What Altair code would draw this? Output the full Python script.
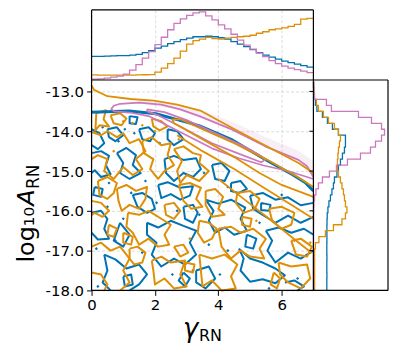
import altair as alt
import numpy as np
import pandas as pd

BLUE, ORANGE, PINK = "#0173b2", "#de8f05", "#cc78bc"

# ---------------- marginal histograms ----------------
gamma_edges = np.round(np.arange(0, 7.01, 0.2), 2)          # 35 bins
top_blue = [23.8, 23.8, 24.0, 24.2, 24.5, 24.5, 25.0, 25.8, 27.5, 29.5, 32.0, 34.0,
            36.5, 38.5, 40.5, 42.0, 43.5, 43.5, 44.0, 43.5, 42.5, 41.0, 38.5, 36.0,
            33.5, 30.5, 27.5, 25.0, 23.0, 21.0, 19.0, 17.5, 16.0, 14.5, 13.0]
top_orange = [5.2, 5.0, 5.0, 5.0, 5.0, 5.0, 5.0, 5.2, 5.3, 5.5, 8.0, 12.0,
              16.5, 22.0, 29.0, 36.0, 39.5, 41.0, 42.8, 41.5, 41.0, 42.0, 42.8, 43.5,
              44.0, 45.0, 47.0, 48.5, 50.5, 51.5, 52.5, 54.0, 56.0, 61.2, 62.0]
top_pink = [0.8, 1.2, 1.8, 2.8, 3.8, 6.0, 10.0, 15.5, 22.0, 28.5, 35.5, 43.0,
            50.5, 57.0, 61.5, 65.0, 67.5, 68.5, 64.5, 60.5, 55.5, 51.5, 46.0, 40.0,
            35.0, 31.0, 27.0, 23.5, 19.5, 16.5, 14.0, 12.0, 10.5, 9.0, 7.5]

logA_edges = np.round(np.arange(-12.75, -18.001, -0.15), 3)   # 35 bins, top to bottom
right_pink = [0.0, 0.3, 1.0, 13.0, 18.0, 45.0, 58.0, 68.0, 71.0, 68.0, 62.0, 57.0,
              47.0, 34.0, 23.0, 16.0, 9.0, 5.0, 2.5, 1.2, 0.6, 0.4, 0.3, 0.3,
              0.2, 0.2, 0.2, 0.1, 0.1, 0.1, 0.1, 0.1, 0.1, 0.1, 0.1]
right_blue = [0.3, 0.5, 1.0, 2.0, 3.5, 9.0, 14.0, 19.0, 25.0, 32.0, 32.0, 31.0,
              29.0, 27.0, 25.0, 23.5, 21.0, 20.0, 18.5, 17.0, 15.5, 14.5, 13.8, 13.6,
              13.5, 13.5, 13.5, 13.4, 13.4, 13.5, 13.4, 13.4, 13.5, 13.4, 13.4]
right_orange = [0.3, 0.5, 1.0, 3.0, 5.0, 10.0, 15.0, 21.0, 25.0, 27.0, 26.0, 25.0,
                24.5, 24.0, 24.0, 25.0, 27.0, 28.5, 30.0, 31.0, 32.0, 33.5, 32.0, 28.5,
                20.0, 12.0, 5.5, 2.0, 1.2, 1.2, 1.2, 1.2, 1.2, 1.2, 1.2]

# ---------------- 2D contour lines (gamma, log10 A) ----------------
pink_haze = {"g": [1.5, 2.5, 3.5, 4.5, 5.5, 6.5, 7.0],
             "lo": [-13.3, -13.42, -13.66, -14.0, -14.4, -14.75, -15.1],
             "hi": [-13.2, -13.28, -13.48, -13.78, -14.15, -14.48, -14.75]}
blue_thick = [(0.0, -13.52), (1.19, -13.49), (2.03, -13.56), (2.76, -13.72), (3.39, -13.86),
              (4.44, -14.22), (5.48, -14.71), (6.32, -15.08), (6.74, -15.29), (7.0, -15.5)]
orange_lines = [
    [(0.0, -12.85), (0.08, -12.96), (0.5, -13.12), (1.23, -13.19), (1.97, -13.23), (2.7, -13.33),
     (3.43, -13.48), (4.44, -13.92), (5.48, -14.36), (6.53, -14.8), (7.0, -15.05)],
    [(7.0, -15.4), (6.5, -15.15), (5.5, -14.7), (4.5, -14.3), (3.5, -13.95), (2.8, -13.7),
     (2.55, -13.7), (2.6, -13.8), (3.5, -14.2), (4.5, -14.65), (5.3, -15.05), (6.0, -15.35), (7.0, -15.65)],
    [(2.7, -14.1), (3.5, -14.5), (4.5, -14.95), (5.5, -15.45), (6.3, -15.85), (7.0, -16.2)],
    [(4.0, -15.2), (4.8, -15.7), (5.6, -16.2), (6.3, -16.65), (6.95, -17.06)],
]
pink_lines = [
    [(7.0, -15.15), (6.8, -14.88), (6.53, -14.72), (5.48, -14.38), (4.44, -13.96), (3.4, -13.62),
     (2.8, -13.45), (2.2, -13.33), (1.5, -13.28), (0.9, -13.31), (0.7, -13.36), (0.62, -13.44),
     (0.72, -13.5), (1.2, -13.53), (1.8, -13.62), (2.7, -13.98), (3.8, -14.43), (4.65, -14.68),
     (5.43, -14.86), (6.2, -15.0), (7.0, -15.2)],
    [(1.75, -13.45), (2.3, -13.52), (3.0, -13.72), (4.0, -14.08), (4.8, -14.38), (5.3, -14.6),
     (5.48, -14.72), (5.35, -14.78), (4.6, -14.55), (3.8, -14.3), (2.8, -13.88), (2.1, -13.6),
     (1.75, -13.5), (1.75, -13.45)],
]
orange_noise = [
    [(0.15, -13.55), (0.45, -13.47), (0.38, -13.7), (0.55, -13.88), (0.25, -13.85), (0.12, -13.98), (0.15, -13.55)],
    [(0.0, -14.02), (0.3, -14.1), (0.5, -14.0), (0.8, -14.15), (1.0, -14.05), (1.2, -14.3), (1.5, -14.2),
     (1.7, -14.5), (1.4, -14.7), (1.6, -14.95), (1.3, -15.1), (1.0, -14.9), (0.7, -15.2), (0.4, -15.0),
     (0.5, -14.7), (0.2, -14.6), (0.0, -14.7)],
    [(1.6, -14.25), (1.9, -14.15), (2.2, -14.35), (2.5, -14.3), (2.4, -14.6), (2.6, -14.85), (2.3, -15.0),
     (2.1, -15.2), (1.85, -14.95), (1.95, -14.7), (1.65, -14.55), (1.6, -14.25)],
    [(2.6, -14.45), (2.9, -14.38), (3.2, -14.55), (3.45, -14.6), (3.4, -14.8), (3.7, -15.0), (3.4, -15.25),
     (3.0, -15.1), (2.8, -15.3), (2.7, -15.0), (2.85, -14.75), (2.6, -14.45)],
    [(0.2, -15.25), (0.5, -15.15), (0.8, -15.3), (0.7, -15.55), (0.5, -15.7), (0.25, -15.6), (0.2, -15.25)],
    [(0.8, -15.45), (1.1, -15.35), (1.4, -15.5), (1.75, -15.4), (1.7, -15.7), (1.5, -15.95), (1.2, -15.85),
     (0.95, -16.0), (0.85, -15.75), (0.8, -15.45)],
    [(1.15, -16.05), (1.5, -16.1), (1.8, -16.0), (2.2, -16.2), (2.5, -16.35), (2.3, -16.6), (2.45, -16.85),
     (2.1, -16.9), (1.8, -16.7), (1.5, -16.85), (1.3, -16.55), (1.1, -16.4), (1.15, -16.05)],
    [(0.0, -16.9), (0.3, -16.8), (0.6, -17.0), (0.9, -16.9), (1.2, -17.2), (1.0, -17.5), (1.2, -17.8), (0.9, -18.0)],
    [(0.0, -17.55), (0.3, -17.6), (0.5, -17.85), (0.4, -18.0)],
    [(1.9, -17.25), (2.2, -17.15), (2.5, -17.3), (2.95, -17.25), (2.8, -17.6), (3.0, -17.9), (2.6, -17.95),
     (2.3, -17.7), (2.0, -17.85), (1.95, -17.5), (1.9, -17.25)],
    [(2.75, -15.35), (3.1, -15.3), (3.45, -15.42), (3.3, -15.7), (3.5, -15.9), (3.15, -15.95), (2.9, -15.75), (2.75, -15.35)],
    [(3.6, -15.5), (3.9, -15.45), (4.15, -15.65), (4.0, -15.95), (4.2, -16.1), (3.8, -16.15), (3.6, -15.85), (3.6, -15.5)],
    [(4.0, -16.45), (4.4, -16.4), (4.7, -16.55), (5.1, -16.45), (5.5, -16.7), (5.3, -16.95), (5.45, -17.2),
     (5.0, -17.15), (4.7, -17.0), (4.4, -17.2), (4.1, -16.9), (4.0, -16.45)],
    [(3.4, -17.1), (3.8, -17.2), (4.2, -17.1), (4.6, -17.35), (4.4, -17.65), (4.55, -17.95), (4.1, -18.0),
     (3.8, -17.75), (3.5, -17.9), (3.45, -17.5), (3.4, -17.1)],
    [(5.9, -17.3), (6.3, -17.4), (6.8, -17.35), (6.9, -17.7), (6.6, -17.95), (6.2, -17.8), (5.95, -17.6), (5.9, -17.3)],
    [(4.6, -15.55), (5.0, -15.5), (5.3, -15.7), (5.15, -15.95), (4.8, -16.05), (4.55, -15.8), (4.6, -15.55)],
    [(5.6, -15.95), (6.0, -15.9), (6.4, -16.05), (6.3, -16.35), (6.0, -16.45), (5.7, -16.25), (5.6, -15.95)],
    [(1.2, -16.95), (1.45, -16.9), (1.7, -17.05), (1.6, -17.3), (1.35, -17.35), (1.2, -17.2), (1.2, -16.95)],
    [(3.4, -16.25), (3.7, -16.3), (3.95, -16.45), (3.8, -16.7), (3.55, -16.8), (3.35, -16.55), (3.4, -16.25)],
    [(6.3, -16.75), (6.6, -16.7), (6.95, -16.9), (6.8, -17.15), (6.45, -17.1), (6.3, -16.75)],
    [(2.3, -15.85), (2.6, -15.8), (2.8, -16.0), (2.6, -16.2), (2.35, -16.1), (2.3, -15.85)],
    [(0.0, -15.75), (0.3, -15.8), (0.55, -16.0), (0.35, -16.15), (0.1, -16.05), (0.0, -16.1)],
    [(1.9, -13.68), (2.2, -13.75), (2.4, -13.88), (2.15, -13.98), (1.95, -13.88), (1.9, -13.68)],
    [(0.55, -16.35), (0.8, -16.45), (0.7, -16.65), (0.5, -16.6), (0.55, -16.35)],
    [(2.6, -16.9), (2.9, -16.85), (3.05, -17.05), (2.8, -17.15), (2.6, -16.9)],
    [(5.75, -17.55), (5.95, -17.7), (5.85, -17.95), (5.65, -17.85), (5.75, -17.55)],
    [(0.6, -13.6), (0.9, -13.55), (1.1, -13.68), (0.95, -13.85), (0.7, -13.8), (0.6, -13.6)],
    [(2.95, -17.3), (3.25, -17.35), (3.2, -17.55), (2.95, -17.5), (2.95, -17.3)],
    [(4.75, -16.15), (5.05, -16.2), (5.0, -16.4), (4.75, -16.35), (4.75, -16.15)],
    [(1.0, -16.55), (1.3, -16.65), (1.25, -16.85), (1.0, -16.8), (1.0, -16.55)],
]
blue_noise = [
    [(0.0, -13.95), (0.25, -14.05), (0.4, -14.3), (0.2, -14.45), (0.0, -14.35)],
    [(0.0, -14.55), (0.3, -14.5), (0.55, -14.62), (0.45, -14.85), (0.6, -15.08), (0.3, -15.15), (0.1, -14.98), (0.0, -15.05)],
    [(0.8, -14.55), (1.1, -14.42), (1.4, -14.6), (1.3, -14.85), (1.55, -15.05), (1.2, -15.2), (0.9, -15.05), (1.0, -14.8), (0.8, -14.55)],
    [(2.3, -14.7), (2.6, -14.62), (2.9, -14.72), (3.3, -14.68), (3.45, -14.95), (3.2, -15.15), (2.9, -15.05),
     (2.6, -15.25), (2.35, -15.05), (2.3, -14.7)],
    [(2.1, -15.35), (2.4, -15.28), (2.8, -15.42), (3.2, -15.38), (3.1, -15.62), (2.8, -15.72), (2.5, -15.58), (2.2, -15.68), (2.1, -15.35)],
    [(0.0, -16.05), (0.3, -16.0), (0.5, -16.2), (0.4, -16.45), (0.55, -16.7), (0.2, -16.72), (0.0, -16.55)],
    [(1.75, -16.3), (2.1, -16.42), (2.5, -16.25), (2.9, -16.38), (3.3, -16.5), (3.1, -16.8), (3.3, -17.1),
     (2.95, -17.35), (2.6, -17.2), (2.2, -17.4), (1.9, -17.1), (2.05, -16.8), (1.75, -16.6), (1.75, -16.3)],
    [(0.4, -17.1), (0.75, -17.22), (1.1, -17.45), (1.5, -17.35), (1.75, -17.6), (1.5, -17.85), (1.2, -18.0)],
    [(0.4, -17.1), (0.5, -17.5), (0.35, -17.8), (0.6, -18.0)],
    [(3.6, -15.72), (4.0, -15.82), (4.4, -15.72), (4.85, -15.92), (4.7, -16.2), (4.9, -16.5), (4.5, -16.6),
     (4.2, -16.42), (3.9, -16.55), (3.7, -16.25), (3.85, -16.0), (3.6, -15.72)],
    [(5.5, -16.5), (5.9, -16.42), (6.3, -16.55), (6.7, -16.45), (7.0, -16.6)],
    [(7.0, -17.0), (6.6, -17.2), (6.2, -17.05), (5.8, -17.3), (5.55, -17.0), (5.7, -16.75), (5.5, -16.5)],
    [(4.65, -16.95), (5.0, -17.2), (5.4, -17.3), (5.8, -17.45), (6.1, -17.62), (5.8, -17.82), (5.4, -17.72),
     (5.0, -17.78), (4.7, -17.5), (4.8, -17.2), (4.65, -16.95)],
    [(5.0, -15.62), (5.4, -15.55), (5.8, -15.72), (6.2, -15.66), (6.6, -15.86), (7.0, -15.8)],
    [(7.0, -16.15), (6.6, -16.3), (6.2, -16.12), (5.8, -16.3), (5.4, -16.1), (5.1, -15.95), (5.0, -15.62)],
    [(1.5, -13.95), (1.8, -13.9), (2.0, -14.05), (1.85, -14.25), (1.6, -14.2), (1.5, -13.95)],
    [(3.8, -14.85), (4.1, -14.8), (4.35, -15.0), (4.2, -15.25), (3.9, -15.2), (3.8, -14.85)],
    [(0.9, -16.3), (1.2, -16.6), (1.0, -16.9), (0.7, -16.75), (0.9, -16.3)],
    [(3.3, -17.5), (3.7, -17.4), (3.9, -17.7), (3.6, -17.95), (3.3, -17.8), (3.3, -17.5)],
    [(1.3, -15.6), (1.6, -15.55), (1.9, -15.7), (2.0, -15.95), (1.75, -16.05), (1.45, -15.9), (1.3, -15.6)],
    [(2.9, -15.9), (3.2, -15.85), (3.35, -16.05), (3.2, -16.3), (2.95, -16.2), (2.9, -15.9)],
    [(4.9, -16.6), (5.2, -16.7), (5.1, -16.95), (4.85, -16.9), (4.9, -16.6)],
    [(6.1, -17.8), (6.4, -17.75), (6.7, -17.9), (6.5, -18.0)],
    [(4.4, -15.3), (4.7, -15.25), (4.9, -15.45), (4.65, -15.55), (4.4, -15.5), (4.4, -15.3)],
    [(0.5, -13.95), (0.8, -13.9), (1.0, -14.1), (0.75, -14.25), (0.55, -14.15), (0.5, -13.95)],
    [(2.4, -13.95), (2.7, -14.0), (2.9, -14.2), (2.6, -14.35), (2.4, -14.2), (2.4, -13.95)],
    [(0.1, -15.4), (0.35, -15.45), (0.3, -15.65), (0.05, -15.6), (0.1, -15.4)],
    [(1.0, -17.65), (1.25, -17.6), (1.3, -17.85), (1.05, -17.9), (1.0, -17.65)],
    [(5.35, -15.8), (5.65, -15.85), (5.6, -16.0), (5.35, -15.98), (5.35, -15.8)],
    [(1.2, -13.62), (1.45, -13.65), (1.4, -13.82), (1.2, -13.8), (1.2, -13.62)],
    [(2.9, -17.55), (3.1, -17.7), (2.95, -17.9), (2.75, -17.75), (2.9, -17.55)],
]
blue_dots = [(0.35, -13.9), (1.05, -13.95), (0.85, -14.25), (1.35, -14.05), (2.15, -14.3), (0.55, -15.3),
             (1.7, -15.25), (2.05, -15.8), (0.5, -15.9), (1.0, -16.2), (0.15, -16.95), (0.75, -16.75),
             (1.6, -17.05), (2.7, -16.0), (3.4, -16.1), (2.55, -17.6), (3.2, -17.5), (3.7, -16.85),
             (4.3, -17.0), (5.3, -16.3), (6.0, -15.6), (4.3, -15.4), (3.55, -15.05), (6.5, -17.7),
             (5.6, -17.95), (0.2, -17.9), (4.05, -17.6), (1.25, -15.55), (2.5, -14.3)]
orange_dots = [(1.0, -13.75), (1.3, -13.8), (1.6, -13.85), (2.0, -14.0), (0.7, -14.5), (5.2, -16.25),
               (6.9, -16.8), (6.4, -16.75), (3.1, -16.7), (2.75, -14.2)]


def loops_df(loops):
    rows = []
    for k, lp in enumerate(loops):
        for i, (g, a) in enumerate(lp):
            rows.append({"loop": k, "i": i, "g": g, "a": a})
    return pd.DataFrame(rows)


def steps_df(edges, series):
    rows = []
    for name, vals in series.items():
        n = 0
        for j, v in enumerate(vals):
            for e in (edges[j], edges[j + 1]):
                rows.append({"s": name, "i": n, "e": float(e), "v": v})
                n += 1
    return pd.DataFrame(rows)


# ---------------- scales (pixel ranges place the three panels) ----------------
W_MAIN, W_ALL, H_TOP, H_ALL = 223, 298, 70.5, 282
SX = alt.Scale(domain=[0, 7], range=[0, W_MAIN], nice=False, zero=False)
SY = alt.Scale(domain=[-18, -12.7125], range=[H_ALL, H_TOP], nice=False, zero=False)
STY = alt.Scale(domain=[0, 70.5], range=[H_TOP, 0], nice=False, zero=False)
SRX = alt.Scale(domain=[0, 74.5], range=[W_MAIN, W_ALL], nice=False, zero=False)
CS = alt.Scale(domain=["blue", "orange", "pink"], range=[BLUE, ORANGE, PINK])

FONT = "DejaVu Sans"
x_axis = alt.Axis(values=[0, 2, 4, 6], grid=True, gridColor="#d3d3d3", gridDash=[3, 2], gridWidth=0.8,
                  domain=False, tickColor="black", tickSize=5, tickWidth=1, labelFont=FONT,
                  labelFontSize=15, labelColor="black", labelPadding=2, labelFlush=False,
                  title=None, orient="bottom")
y_axis = alt.Axis(values=[-18, -17, -16, -15, -14, -13], grid=True, gridColor="#d3d3d3", gridDash=[3, 2],
                  gridWidth=0.8, domain=False, tickColor="black", tickSize=5, tickWidth=1, labelFont=FONT,
                  labelFontSize=15, labelColor="black", labelPadding=3, labelFlush=False,
                  title=None, orient="left",
                  labelExpr="(datum.value < 0 ? '-' : '') + format(abs(datum.value), '.1f')")


def main_line(loops, color, width, axes=False):
    return alt.Chart(loops_df(loops)).mark_line(color=color, strokeWidth=width, strokeJoin="round").encode(
        x=alt.X("g:Q", scale=SX, axis=x_axis if axes else None),
        y=alt.Y("a:Q", scale=SY, axis=y_axis if axes else None),
        detail="loop:N", order="i:Q")


def dots(pts, color):
    df = pd.DataFrame(pts, columns=["g", "a"])
    return alt.Chart(df).mark_point(shape="diamond", color=color, size=10, filled=True, opacity=1).encode(
        x=alt.X("g:Q", scale=SX, axis=None), y=alt.Y("a:Q", scale=SY, axis=None))


haze = alt.Chart(pd.DataFrame(pink_haze)).mark_area(color=PINK, opacity=0.13).encode(
    x=alt.X("g:Q", scale=SX, axis=None), y=alt.Y("lo:Q", scale=SY, axis=None), y2="hi:Q")

layers = [
    main_line(blue_noise, BLUE, 2.0, axes=True),
    dots(blue_dots, BLUE),
    main_line(orange_noise, ORANGE, 2.0),
    dots(orange_dots, ORANGE),
    haze,
    main_line([blue_thick], BLUE, 3.0),
    main_line(pink_lines, PINK, 1.7),
    main_line(orange_lines, ORANGE, 1.8),
]

top_df = steps_df(gamma_edges, {"blue": top_blue, "orange": top_orange, "pink": top_pink})
layers.append(alt.Chart(top_df).mark_line(strokeWidth=1.3).encode(
    x=alt.X("e:Q", scale=SX, axis=None), y=alt.Y("v:Q", scale=STY, axis=None),
    color=alt.Color("s:N", scale=CS, legend=None), order="i:Q"))

right_df = steps_df(logA_edges, {"blue": right_blue, "orange": right_orange, "pink": right_pink})
layers.append(alt.Chart(right_df).mark_line(strokeWidth=1.3).encode(
    x=alt.X("v:Q", scale=SRX, axis=None), y=alt.Y("e:Q", scale=SY, axis=None),
    color=alt.Color("s:N", scale=CS, legend=None), order="i:Q"))

# ticks on the right panel's left spine
tick_df = pd.DataFrame({"a": [-17, -16, -15, -14, -13]})
layers.append(alt.Chart(tick_df).mark_rule(color="black", strokeWidth=1).encode(
    y=alt.Y("a:Q", scale=SY, axis=None), x=alt.value(W_MAIN - 4), x2=alt.value(W_MAIN)))

one = pd.DataFrame({"k": [0]})
spines = [
    dict(x=alt.value(0), y=alt.value(0), y2=alt.value(H_ALL)),
    dict(x=alt.value(W_MAIN), y=alt.value(0), y2=alt.value(H_ALL)),
    dict(x=alt.value(W_ALL), y=alt.value(H_TOP), y2=alt.value(H_ALL)),
    dict(y=alt.value(0), x=alt.value(0), x2=alt.value(W_MAIN)),
    dict(y=alt.value(H_TOP), x=alt.value(0), x2=alt.value(W_ALL)),
    dict(y=alt.value(H_ALL), x=alt.value(0), x2=alt.value(W_ALL)),
]
for s in spines:
    layers.append(alt.Chart(one).mark_rule(color="black", strokeWidth=1.2).encode(**s))


def txt(t, x, y, size, italic=False, angle=0):
    kw = dict(text=t, font=FONT, fontSize=size, align="left", baseline="alphabetic", color="black")
    if italic:
        kw["fontStyle"] = "italic"
    if angle:
        kw["angle"] = angle
    return alt.Chart(one).mark_text(**kw).encode(x=alt.value(x), y=alt.value(y))


layers += [
    txt("γ", 92, 329, 26, italic=True),
    txt("RN", 108, 333, 16),
    txt("log₁₀", -58, 254, 24, angle=270),
    txt("A", -58, 197, 24, italic=True, angle=270),
    txt("RN", -53, 180, 17, angle=270),
]

chart = alt.layer(*layers).resolve_scale(x="independent", y="independent", color="independent").properties(
    width=W_ALL, height=H_ALL,
    padding={"left": 84, "top": 1, "right": 2, "bottom": 55},
    autosize=alt.AutoSizeParams(type="none"),
).configure_view(stroke=None)

chart.save("out.html", embed_options={"renderer": "svg", "actions": False})
